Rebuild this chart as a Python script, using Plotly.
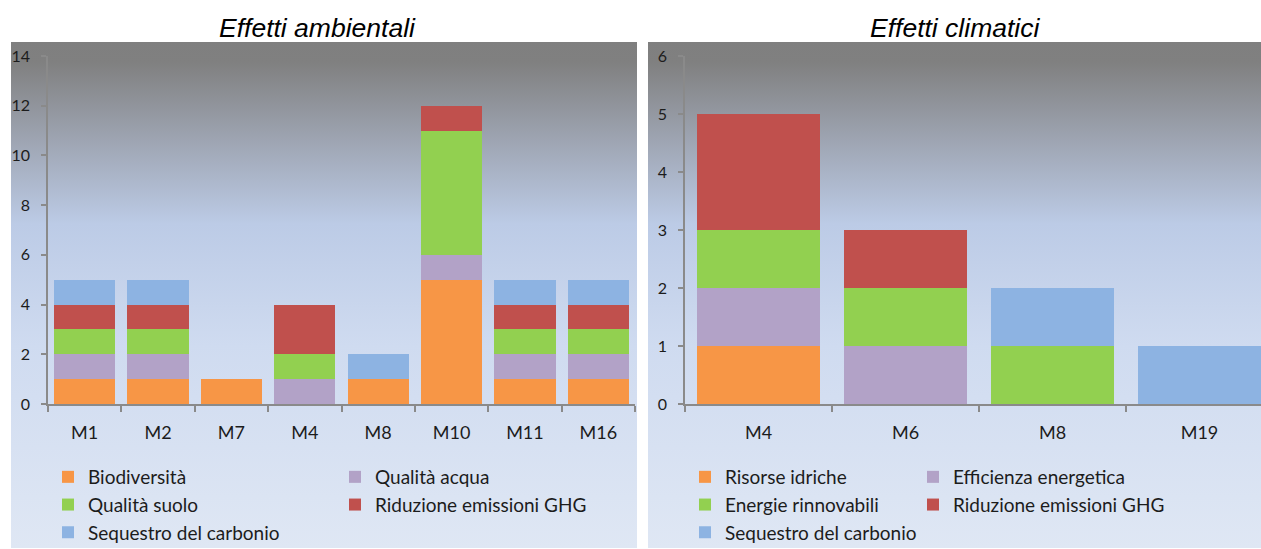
import base64
import plotly.graph_objects as go

# ---------------- data ----------------
cats_amb = ["M1", "M2", "M7", "M4", "M8", "M10", "M11", "M16"]
biodiversita = [1, 1, 1, 0, 1, 5, 1, 1]
qualita_acqua = [1, 1, 0, 1, 0, 1, 1, 1]
qualita_suolo = [1, 1, 0, 1, 0, 5, 1, 1]
ghg_amb = [1, 1, 0, 2, 0, 1, 1, 1]
sequestro_amb = [1, 1, 0, 0, 1, 0, 1, 1]

cats_clim = ["M4", "M6", "M8", "M19"]
risorse_idriche = [1, 0, 0, 0]
efficienza_energetica = [1, 1, 0, 0]
energie_rinnovabili = [1, 1, 1, 0]
ghg_clim = [2, 1, 0, 0]
sequestro_clim = [0, 0, 1, 1]

title_amb = "Effetti ambientali"
title_clim = "Effetti climatici"

# ---------------- styling ----------------
W, H = 1261, 549
C_ORANGE = "#F79646"
C_PURPLE = "#B2A2C7"
C_GREEN = "#92D050"
C_RED = "#C0504D"
C_BLUE = "#8DB3E2"
FONT = "Lato"
TXT = "#1c1c1c"
AX = "#8a8a8a"


def px(x):
    return x / W


def py(y):
    return (H - y) / H


def nz(v):
    return [None if a == 0 else a for a in v]


fig = go.Figure()

left_series = [
    ("Biodiversità", biodiversita, C_ORANGE, "legend"),
    ("Qualità acqua", qualita_acqua, C_PURPLE, "legend2"),
    ("Qualità suolo", qualita_suolo, C_GREEN, "legend"),
    ("Riduzione emissioni GHG", ghg_amb, C_RED, "legend2"),
    ("Sequestro del carbonio", sequestro_amb, C_BLUE, "legend"),
]
for name, vals, col, lg in left_series:
    fig.add_trace(go.Bar(x=cats_amb, y=nz(vals), name=name, marker_color=col,
                         marker_line_width=0, legend=lg, xaxis="x", yaxis="y"))

right_series = [
    ("Risorse idriche", risorse_idriche, C_ORANGE, "legend3"),
    ("Efficienza energetica", efficienza_energetica, C_PURPLE, "legend4"),
    ("Energie rinnovabili", energie_rinnovabili, C_GREEN, "legend3"),
    ("Riduzione emissioni GHG", ghg_clim, C_RED, "legend4"),
    ("Sequestro del carbonio", sequestro_clim, C_BLUE, "legend3"),
]
for name, vals, col, lg in right_series:
    fig.add_trace(go.Bar(x=cats_clim, y=nz(vals), name=name, marker_color=col,
                         marker_line_width=0, legend=lg, xaxis="x2", yaxis="y2"))

# gradient background (svg data uri)
stops = [(0.0, "#7f7f7f"), (0.04, "#808080"), (0.2, "#9fa6b4"), (0.36, "#bccbe6"),
         (0.6, "#cfdbf0"), (1.0, "#dfe7f4")]
stop_xml = "".join(f'<stop offset="{o}" stop-color="{c}"/>' for o, c in stops)
svg = ('<svg xmlns="http://www.w3.org/2000/svg" width="100" height="100" viewBox="0 0 100 100" '
       'preserveAspectRatio="none"><defs><linearGradient id="g" x1="0" y1="0" x2="0" y2="1">'
       + stop_xml + '</linearGradient></defs><rect x="0" y="0" width="100" height="100" fill="url(#g)"/></svg>')
uri = "data:image/svg+xml;base64," + base64.b64encode(svg.encode()).decode()

images = [
    dict(source=uri, xref="paper", yref="paper", x=px(11), y=py(42), sizex=(637 - 11) / W,
         sizey=(548 - 42) / H, xanchor="left", yanchor="top", sizing="stretch", layer="below"),
    dict(source=uri, xref="paper", yref="paper", x=px(648), y=py(42), sizex=(1261 - 648) / W,
         sizey=(548 - 42) / H, xanchor="left", yanchor="top", sizing="stretch", layer="below"),
]

axis_common = dict(showline=True, linecolor=AX, linewidth=1.5, showgrid=False, zeroline=False,
                   ticks="outside", tickcolor=AX, tickwidth=1.5, fixedrange=True, automargin=False)

fig.update_layout(
    width=W, height=H,
    margin=dict(l=0, r=0, t=0, b=0, pad=0, autoexpand=False),
    paper_bgcolor="white", plot_bgcolor="rgba(0,0,0,0)",
    barmode="stack", bargap=0.165,
    images=images,
    xaxis=dict(domain=[px(48), px(635)], anchor="y", type="category", tickson="boundaries",
               ticklen=6, tickfont=dict(family=FONT, size=18, color=TXT), ticklabelstandoff=12,
               **axis_common),
    yaxis=dict(domain=[py(404), py(56)], anchor="x", range=[0, 14], dtick=2, ticklen=5,
               tickfont=dict(family=FONT, size=16, color=TXT), ticklabelstandoff=8, **axis_common),
    xaxis2=dict(domain=[px(685), 1.0], anchor="y2", type="category", tickson="boundaries",
                range=[-0.5, 3.5 - 12 / 147], ticklen=6,
                tickfont=dict(family=FONT, size=18, color=TXT), ticklabelstandoff=12, **axis_common),
    yaxis2=dict(domain=[py(404), py(56)], anchor="x2", range=[0, 6], dtick=1, ticklen=5,
                tickfont=dict(family=FONT, size=16, color=TXT), ticklabelstandoff=8, **axis_common),
    annotations=[
        dict(text=title_amb, x=px(317), y=py(28), xref="paper", yref="paper", showarrow=False,
             xanchor="center", yanchor="middle",
             font=dict(family="Liberation Sans", size=26.5, color="black", style="italic")),
        dict(text=title_clim, x=px(955), y=py(28), xref="paper", yref="paper", showarrow=False,
             xanchor="center", yanchor="middle",
             font=dict(family="Liberation Sans", size=26.5, color="black", style="italic")),
    ],
)

leg_common = dict(orientation="v", bgcolor="rgba(0,0,0,0)", borderwidth=0, tracegroupgap=0,
                  traceorder="normal",
                  font=dict(family=FONT, size=19, color=TXT), xanchor="left", yanchor="top",
                  itemclick=False, itemdoubleclick=False)
fig.update_layout(
    legend=dict(x=px(48), y=py(458), **leg_common),
    legend2=dict(x=px(335), y=py(458), **leg_common),
    legend3=dict(x=px(685), y=py(458), **leg_common),
    legend4=dict(x=px(913), y=py(458), **leg_common),
)

fig.write_html("out.html", config={"displayModeBar": False},
               post_script="document.body.style.margin='0';document.body.style.overflow='hidden';")
